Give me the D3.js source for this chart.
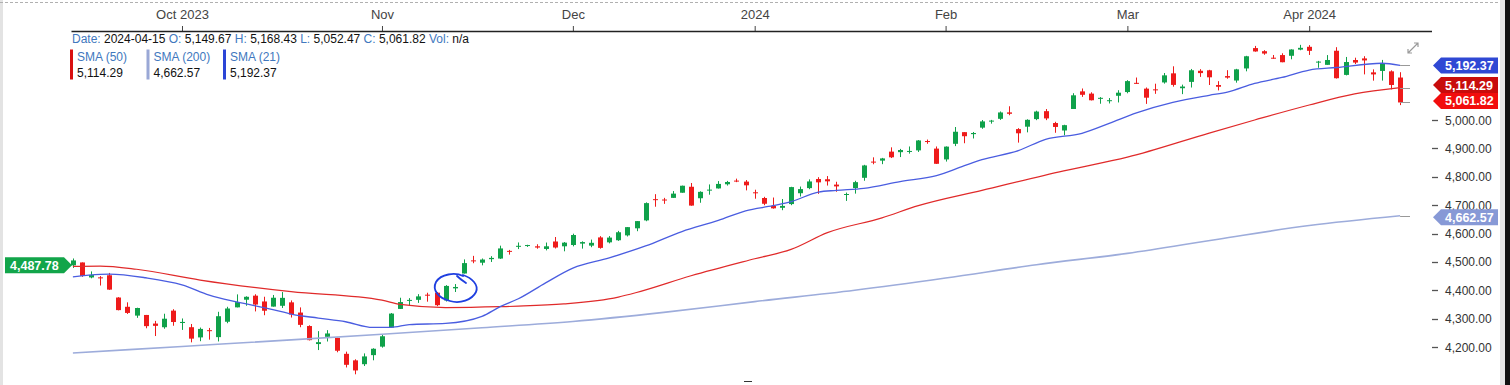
<!DOCTYPE html>
<html><head><meta charset="utf-8">
<script src="https://cdn.jsdelivr.net/npm/d3@7/dist/d3.min.js"></script>
<style>
html,body{margin:0;padding:0;background:#fff;overflow:hidden}
svg{display:block;font-family:Arial,"Liberation Sans",sans-serif}
</style></head><body>
<svg id="c" width="1510" height="385"></svg>
<script>
const dates=["2023-09-14","2023-09-15","2023-09-18","2023-09-19","2023-09-20","2023-09-21","2023-09-22","2023-09-25","2023-09-26","2023-09-27","2023-09-28","2023-09-29",
"2023-10-02","2023-10-03","2023-10-04","2023-10-05","2023-10-06","2023-10-09","2023-10-10","2023-10-11","2023-10-12","2023-10-13","2023-10-16","2023-10-17","2023-10-18","2023-10-19","2023-10-20","2023-10-23","2023-10-24","2023-10-25","2023-10-26","2023-10-27","2023-10-30","2023-10-31",
"2023-11-01","2023-11-02","2023-11-03","2023-11-06","2023-11-07","2023-11-08","2023-11-09","2023-11-10","2023-11-13","2023-11-14","2023-11-15","2023-11-16","2023-11-17","2023-11-20","2023-11-21","2023-11-22","2023-11-24","2023-11-27","2023-11-28","2023-11-29","2023-11-30",
"2023-12-01","2023-12-04","2023-12-05","2023-12-06","2023-12-07","2023-12-08","2023-12-11","2023-12-12","2023-12-13","2023-12-14","2023-12-15","2023-12-18","2023-12-19","2023-12-20","2023-12-21","2023-12-22","2023-12-26","2023-12-27","2023-12-28","2023-12-29",
"2024-01-02","2024-01-03","2024-01-04","2024-01-05","2024-01-08","2024-01-09","2024-01-10","2024-01-11","2024-01-12","2024-01-16","2024-01-17","2024-01-18","2024-01-19","2024-01-22","2024-01-23","2024-01-24","2024-01-25","2024-01-26","2024-01-29","2024-01-30","2024-01-31",
"2024-02-01","2024-02-02","2024-02-05","2024-02-06","2024-02-07","2024-02-08","2024-02-09","2024-02-12","2024-02-13","2024-02-14","2024-02-15","2024-02-16","2024-02-20","2024-02-21","2024-02-22","2024-02-23","2024-02-26","2024-02-27","2024-02-28","2024-02-29",
"2024-03-01","2024-03-04","2024-03-05","2024-03-06","2024-03-07","2024-03-08","2024-03-11","2024-03-12","2024-03-13","2024-03-14","2024-03-15","2024-03-18","2024-03-19","2024-03-20","2024-03-21","2024-03-22","2024-03-25","2024-03-26","2024-03-27","2024-03-28",
"2024-04-01","2024-04-02","2024-04-03","2024-04-04","2024-04-05","2024-04-08","2024-04-09","2024-04-10","2024-04-11","2024-04-12","2024-04-15"];
const opens=[4487.78,4497.98,4445.13,4445.41,4452.81,4374.36,4341.74,4310.62,4312.88,4282.63,4269.65,4328.18,
4284.52,4269.75,4233.83,4259.31,4234.79,4289.02,4339.75,4366.59,4380.94,4360.49,4342.37,4345.23,4357.35,4321.36,4273.85,4210.40,4235.79,4232.42,4175.99,4152.93,4139.39,4171.33,
4201.27,4268.26,4334.23,4364.27,4366.21,4384.37,4391.41,4364.15,4406.66,4458.97,4505.30,4497.08,4509.55,4511.70,4538.77,4553.04,4555.84,4554.86,4545.55,4571.84,4554.87,
4559.43,4564.37,4557.25,4586.23,4568.84,4576.20,4593.39,4618.30,4646.20,4721.04,4719.74,4725.58,4743.72,4764.73,4724.29,4753.92,4758.86,4773.45,4786.44,4782.88,
4745.20,4725.07,4697.42,4690.57,4703.70,4741.93,4759.94,4792.13,4791.18,4772.35,4739.13,4760.10,4796.28,4853.42,4856.80,4888.56,4886.66,4888.91,4892.95,4925.89,4899.19,
4861.11,4916.06,4957.19,4950.16,4973.05,4995.16,5004.17,5026.83,4967.94,4976.44,5003.14,5031.13,4989.32,4963.03,5038.83,5100.92,5093.00,5074.60,5067.20,5085.36,
5098.51,5130.99,5110.52,5108.03,5132.38,5164.46,5111.96,5134.30,5173.49,5175.14,5123.31,5154.77,5139.09,5181.69,5253.43,5242.48,5219.52,5228.85,5226.31,5248.03,
5257.97,5204.29,5194.37,5244.05,5158.95,5211.37,5217.03,5167.88,5172.95,5171.51,5149.67];
const highs=[4511.99,4497.98,4466.36,4449.85,4461.03,4375.70,4357.40,4338.51,4313.01,4292.07,4317.27,4333.15,
4300.58,4281.15,4268.50,4267.13,4324.10,4341.73,4385.46,4378.64,4385.85,4377.10,4383.33,4393.57,4364.20,4339.54,4276.56,4255.84,4259.38,4232.42,4183.60,4156.70,4177.47,4195.55,
4245.64,4319.72,4373.62,4372.21,4386.26,4391.20,4393.40,4418.03,4421.76,4508.67,4521.17,4511.99,4520.12,4557.11,4542.14,4568.43,4560.31,4562.06,4568.14,4587.64,4569.89,
4599.39,4572.37,4578.56,4590.74,4590.92,4609.23,4622.66,4643.93,4709.69,4738.57,4725.58,4749.52,4768.69,4778.01,4748.71,4772.94,4784.72,4785.39,4793.30,4788.43,
4754.33,4729.29,4726.78,4721.49,4764.54,4765.47,4790.80,4798.50,4802.40,4782.34,4744.23,4785.79,4842.07,4868.41,4866.48,4903.68,4898.15,4906.69,4929.31,4931.09,4906.75,
4906.97,4975.29,4957.19,4957.77,4999.89,5000.40,5030.06,5048.39,4971.30,5002.52,5032.72,5038.70,4993.71,4983.21,5094.39,5111.06,5097.66,5080.69,5077.37,5104.99,
5140.33,5149.67,5114.54,5127.97,5165.62,5189.26,5124.66,5179.87,5179.14,5176.85,5136.86,5175.60,5180.31,5226.19,5261.10,5246.09,5229.09,5235.16,5249.26,5264.85,
5263.95,5208.34,5228.75,5256.59,5222.18,5219.57,5224.81,5178.43,5211.78,5175.03,5168.43];
const lows=[4478.69,4447.21,4442.11,4416.61,4401.38,4329.17,4316.49,4302.70,4265.98,4238.63,4264.38,4274.86,
4260.21,4216.45,4220.48,4225.91,4219.55,4283.79,4339.64,4345.34,4325.43,4311.97,4342.37,4337.54,4303.84,4269.69,4223.03,4189.22,4219.43,4181.42,4127.90,4103.78,4132.94,4153.12,
4197.74,4268.26,4334.23,4347.53,4355.41,4359.76,4343.94,4360.30,4393.82,4458.97,4495.31,4487.83,4499.66,4510.36,4525.51,4545.05,4552.80,4546.42,4540.51,4547.15,4537.24,
4554.71,4546.72,4551.68,4546.50,4565.22,4574.06,4589.53,4608.09,4643.23,4694.34,4704.48,4725.58,4743.72,4697.82,4708.35,4736.77,4758.45,4768.90,4780.98,4751.99,
4722.67,4699.71,4687.53,4682.11,4699.82,4730.35,4756.20,4739.58,4768.98,4747.12,4714.82,4740.57,4785.87,4844.05,4844.37,4865.94,4869.34,4881.47,4887.40,4916.27,4845.15,
4853.52,4907.99,4918.09,4934.88,4969.05,4987.09,5000.34,5016.83,4920.31,4956.45,4999.44,4999.52,4955.02,4946.00,5038.83,5081.46,5068.91,5057.29,5058.35,5061.89,
5094.16,5127.18,5056.82,5092.22,5128.21,5117.50,5091.14,5114.48,5151.88,5123.30,5104.35,5145.47,5131.59,5171.55,5240.66,5229.87,5216.09,5203.42,5213.92,5245.82,
5229.20,5184.05,5194.37,5146.06,5157.21,5197.35,5160.78,5138.70,5138.77,5107.94,5052.47];
const closes=[4505.10,4450.32,4453.53,4443.95,4402.20,4330.00,4320.06,4337.44,4273.53,4274.51,4299.70,4288.05,
4288.39,4229.45,4263.75,4258.19,4308.50,4335.66,4358.24,4376.95,4349.61,4327.78,4373.63,4373.20,4314.60,4278.00,4224.16,4217.04,4247.68,4186.77,4137.23,4117.37,4166.82,4193.80,
4237.86,4317.78,4358.34,4365.98,4378.38,4382.78,4347.35,4415.24,4411.55,4495.70,4502.88,4508.24,4514.02,4547.38,4538.19,4556.62,4559.34,4550.43,4554.89,4550.58,4567.80,
4594.63,4569.78,4567.18,4549.34,4585.59,4604.37,4622.44,4643.70,4707.09,4719.55,4719.19,4740.56,4768.37,4698.35,4746.75,4754.63,4774.75,4781.58,4783.35,4769.83,
4742.83,4704.81,4688.68,4697.24,4763.54,4756.50,4783.45,4780.24,4783.83,4765.98,4739.21,4780.94,4839.81,4850.43,4864.60,4868.55,4894.16,4890.97,4927.93,4924.97,4845.65,
4906.19,4958.61,4942.81,4954.23,4995.06,4997.91,5026.61,5021.84,4953.17,5000.62,5029.73,5005.57,4975.51,4981.80,5087.03,5088.80,5069.53,5078.18,5069.76,5096.27,
5137.08,5130.95,5078.65,5104.76,5157.36,5123.69,5117.94,5175.27,5165.31,5150.48,5117.09,5149.42,5178.51,5224.62,5241.53,5234.18,5218.19,5203.58,5248.49,5254.35,
5243.77,5205.81,5211.49,5147.21,5204.34,5202.39,5209.91,5160.64,5199.06,5123.41,5061.82];

// moving averages (date, value)
const sma21Dates=["2023-09-14","2023-09-19","2023-09-20","2023-09-26","2023-10-02","2023-10-05","2023-10-10","2023-10-16","2023-10-18","2023-10-23","2023-10-26","2023-10-31","2023-11-02","2023-11-06","2023-11-10","2023-11-16","2023-11-20","2023-11-22","2023-11-28","2023-12-01","2023-12-07","2023-12-13","2023-12-19","2023-12-26","2023-12-29","2024-01-04","2024-01-08","2024-01-11","2024-01-16","2024-01-19","2024-01-25","2024-01-31","2024-02-05","2024-02-07","2024-02-13","2024-02-16","2024-02-23","2024-02-28","2024-03-04","2024-03-08","2024-03-14","2024-03-18","2024-03-21","2024-03-26","2024-04-01","2024-04-04","2024-04-11","2024-04-15"];
const sma21Values=[4447,4456,4457,4444,4419,4383,4359,4332,4316,4302,4289,4269,4269,4279,4283,4308,4342,4370,4426,4478,4514,4556,4607,4646,4680,4698,4712,4746,4752,4759,4783,4804,4838,4860,4892,4932,4953,4988,5025,5062,5087,5098,5129,5150,5176,5185,5200,5192.37];
const sma50Dates=["2023-09-14","2023-09-19","2023-09-25","2023-10-04","2023-10-18","2023-11-01","2023-11-03","2023-11-10","2023-11-20","2023-11-22","2023-11-30","2023-12-08","2023-12-12","2023-12-20","2024-01-02","2024-01-08","2024-01-12","2024-01-23","2024-01-29","2024-02-07","2024-02-21","2024-03-01","2024-03-14","2024-03-21","2024-04-01","2024-04-08","2024-04-15"];
const sma50Values=[4484,4485,4474,4436,4395,4365,4350,4339,4342,4344,4352,4376,4392,4451,4511,4544,4603,4655,4698,4752,4821,4869,4954,5000,5053,5092,5114.29];
const sma200Dates=["2023-09-14","2023-10-02","2023-10-18","2023-11-01","2023-11-16","2023-12-01","2023-12-15","2024-01-02","2024-01-18","2024-02-01","2024-02-15","2024-03-01","2024-03-15","2024-04-01","2024-04-15"];
const sma200Values=[4179,4202,4225,4245,4268,4290,4322,4360,4400,4443,4490,4530,4580,4628,4662.57];

const monthTicks=["2023-10-02","2023-11-01","2023-12-01","2024-01-02","2024-02-01","2024-03-01","2024-04-01"];
const monthLabels=["Oct 2023","Nov","Dec","2024","Feb","Mar","Apr 2024"];
const priceTicks=[4200,4300,4400,4500,4600,4700,4800,4900,5000];

const svg=d3.select("#c");
const fmt=d3.format(",.2f");
const x=d3.scalePoint().domain(dates).range([72.9,1400.1]);
const y=d3.scaleLinear().domain([4200,5000]).range([347,120]);
const GREEN="#0fa14a", RED="#ee1b1b";

// frame bits
svg.append("rect").attr("x",0).attr("y",0).attr("width",1510).attr("height",385).attr("fill","#fff");
svg.append("rect").attr("x",0).attr("y",0).attr("width",3).attr("height",385).attr("fill","#e3e3e3");
svg.append("line").attr("x1",0).attr("x2",1500).attr("y1",2.5).attr("y2",2.5).attr("stroke","#b0b0b0").attr("stroke-dasharray","3,2");
svg.append("rect").attr("x",1500).attr("y",0).attr("width",5).attr("height",385).attr("fill","#e6e6e6");
svg.append("rect").attr("x",1505).attr("y",0).attr("width",5).attr("height",385).attr("fill","#111");

// x axis (top)
const xAxis=d3.axisTop(x).tickValues(monthTicks).tickSize(5).tickFormat((d,i)=>monthLabels[i]);
const gx=svg.append("g").attr("transform","translate(0,31)").call(xAxis);
gx.select(".domain").remove();
gx.selectAll(".tick line").attr("stroke","#444");
gx.selectAll(".tick text").attr("font-size",13).attr("fill","#444").attr("font-family","Arial,'Liberation Sans',sans-serif").attr("dy","-0.3em");
svg.append("line").attr("x1",71.5).attr("x2",1432).attr("y1",31.5).attr("y2",31.5).attr("stroke","#222").attr("stroke-width",1.5);

// y axis (right)
const gy=svg.append("g");
gy.selectAll("line").data(priceTicks).join("line")
  .attr("x1",1432).attr("x2",1438).attr("y1",d=>Math.round(y(d))+0.5).attr("y2",d=>Math.round(y(d))+0.5)
  .attr("stroke","#555").attr("stroke-width",1.3);
gy.selectAll("text").data(priceTicks).join("text")
  .attr("x",1445).attr("y",d=>y(d)+4.5).attr("font-size",12).attr("fill","#333").text(d=>fmt(d));

// candles
const gc=svg.append("g");
const n=dates.length;
const idx=d3.range(n);
gc.selectAll("line").data(idx).join("line")
  .attr("x1",i=>Math.round(x(dates[i]))+0.5).attr("x2",i=>Math.round(x(dates[i]))+0.5)
  .attr("y1",i=>y(highs[i])).attr("y2",i=>y(lows[i]))
  .attr("stroke",i=>closes[i]>=opens[i]?GREEN:RED).attr("stroke-width",1);
gc.selectAll("rect").data(idx).join("rect")
  .attr("x",i=>Math.round(x(dates[i]))-2).attr("width",5)
  .attr("y",i=>y(Math.max(opens[i],closes[i])))
  .attr("height",i=>Math.max(1,Math.abs(y(opens[i])-y(closes[i]))))
  .attr("fill",i=>closes[i]>=opens[i]?GREEN:RED);

// moving averages
const lineGen=d3.line().x(d=>x(d[0])).y(d=>y(d[1])).curve(d3.curveMonotoneX);
const zip=(a,b)=>a.map((d,i)=>[d,b[i]]);
svg.append("path").attr("d",lineGen(zip(sma200Dates,sma200Values))).attr("fill","none").attr("stroke","#9dacdb").attr("stroke-width",1.6);
svg.append("path").attr("d",lineGen(zip(sma50Dates,sma50Values))).attr("fill","none").attr("stroke","#e02a2a").attr("stroke-width",1.2);
svg.append("path").attr("d",lineGen(zip(sma21Dates,sma21Values))).attr("fill","none").attr("stroke","#4a5de0").attr("stroke-width",1.3);

// price lines to the labels
const last=dates[n-1];
[[sma21Values[sma21Values.length-1]],[sma50Values[sma50Values.length-1]],[closes[n-1]],[sma200Values[sma200Values.length-1]]].forEach(v=>{
  svg.append("line").attr("x1",x(last)).attr("x2",1410).attr("y1",Math.round(y(v[0]))+0.5).attr("y2",Math.round(y(v[0]))+0.5).attr("stroke","#999").attr("stroke-width",1);
});

// value tags on the right
function tag(val,cy,color){
  const g=svg.append("g");
  g.append("path").attr("d",`M1433,${cy} L1441,${cy-8} L1498,${cy-8} L1498,${cy+8} L1441,${cy+8} Z`).attr("fill",color);
  g.append("text").attr("x",1445).attr("y",cy+4.5).attr("font-size",12.5).attr("font-weight","bold").attr("fill","#fff").text(fmt(val));
}
tag(sma200Values[sma200Values.length-1],y(sma200Values[sma200Values.length-1])+1.5,"#8799d6");
tag(closes[n-1],y(closes[n-1])-1.5,"#f20d0d");
tag(sma50Values[sma50Values.length-1],y(sma50Values[sma50Values.length-1])-2.5,"#c80c0c");
tag(sma21Values[sma21Values.length-1],y(sma21Values[sma21Values.length-1]),"#2f48d4");

// left tag: first open
{
  const cy=y(opens[0]);
  svg.append("path").attr("d",`M5,${cy-8} L64,${cy-8} L72,${cy} L64,${cy+8} L5,${cy+8} Z`).attr("fill","#12a54a");
  svg.append("text").attr("x",10).attr("y",cy+4.5).attr("font-size",12.5).attr("font-weight","bold").attr("fill","#fff").text(fmt(opens[0]));
}

// legend
const lab="#4178be";
const leg=svg.append("text").attr("x",72).attr("y",42.5).attr("font-size",12);
const parts=[["Date: ",lab],[last+" ","#111"],["O: ",lab],[fmt(opens[n-1])+" ","#111"],["H: ",lab],[fmt(highs[n-1])+" ","#111"],["L: ",lab],[fmt(lows[n-1])+" ","#111"],["C: ",lab],[fmt(closes[n-1])+" ","#111"],["Vol: ",lab],["n/a","#111"]];
parts.forEach(p=>leg.append("tspan").attr("fill",p[1]).attr("xml:space","preserve").text(p[0]));
leg.attr("style","white-space:pre");
const smaLeg=[["SMA (50)",sma50Values[sma50Values.length-1],"#d90f0f",70],["SMA (200)",sma200Values[sma200Values.length-1],"#9aa8d6",146.5],["SMA (21)",sma21Values[sma21Values.length-1],"#2c45d6",223]];
smaLeg.forEach(s=>{
  svg.append("rect").attr("x",s[3]).attr("y",49.5).attr("width",3).attr("height",30).attr("fill",s[2]);
  svg.append("text").attr("x",s[3]+7).attr("y",60.5).attr("font-size",12).attr("fill",lab).text(s[0]);
  svg.append("text").attr("x",s[3]+7).attr("y",77).attr("font-size",12).attr("fill","#111").text(fmt(s[1]));
});

// expand icon
const ic=svg.append("g").attr("stroke","#9a9a9a").attr("stroke-width",1.2).attr("fill","none");
ic.append("path").attr("d","M1408,53 L1418,43 M1414,43 L1418,43 L1418,47 M1408,49 L1408,53 L1412,53");

// small cursor mark at the bottom
svg.append("line").attr("x1",744).attr("x2",752).attr("y1",381.5).attr("y2",381.5).attr("stroke","#333").attr("stroke-width",1);

// hand-drawn annotation
svg.append("path")
  .attr("d","M463,276 C455,272 441,274 436,282 C432,290 438,298 450,301 C460,304 472,300 476,292 C479,285 472,278 463,275 M457,276 C460,279 463,281 466,283")
  .attr("fill","none").attr("stroke","#1f3fe0").attr("stroke-width",1.8).attr("stroke-linecap","round");
</script>
</body></html>
